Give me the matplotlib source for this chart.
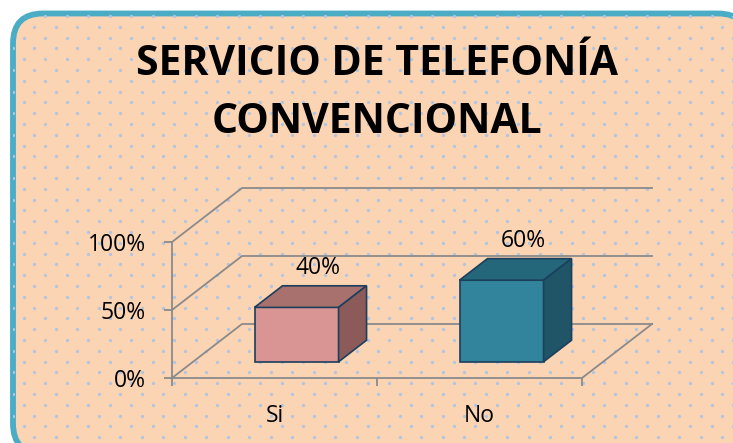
import numpy as np
import matplotlib
matplotlib.use("Agg")
import matplotlib.pyplot as plt
from matplotlib.patches import FancyBboxPatch, Polygon, Rectangle

# datos del gráfico
categorias = ["Si", "No"]
valores = [0.40, 0.60]
etiquetas = ["40%", "60%"]
yticks = [0.0, 0.5, 1.0]
ytick_labels = ["0%", "50%", "100%"]
titulo = "SERVICIO DE TELEFONÍA\nCONVENCIONAL"

# colores (frente, arriba, lado)
caras = [("#D99594", "#A8716E", "#8C5B59"), ("#31849B", "#24667A", "#1F5566")]
BORDE = "#1B3F5C"
GRIS = "#8A8A8A"
FONDO = "#FBD4B4"

W, H = 733, 443
fig = plt.figure(figsize=(W / 100, H / 100), dpi=100)
fig.patch.set_facecolor("white")

# fondo: recuadro redondeado con puntos
bg = fig.add_axes([0, 0, 1, 1])
bg.set_xlim(0, W); bg.set_ylim(H, 0); bg.axis("off")
caja = FancyBboxPatch((13, 13.5), 735, 440, boxstyle="round,pad=0,rounding_size=30",
                      fc=FONDO, ec="#4BACC6", lw=4.2, zorder=1)
bg.add_patch(caja)
px, py = [], []
for r in range(42):
    y = 16 + 10.8 * (r - 1)
    xs = np.arange(45 - 21.5 * 2, W + 10, 21.5) + (10.75 if r % 2 == 0 else 0)
    px.extend(xs); py.extend([y] * len(xs))
pts = bg.scatter(px, py, s=5.5, c="#B0C6E0", lw=0, zorder=2)
pts.set_clip_path(caja)

fig.text(377, H - 93.5, titulo, transform=None, ha="center", va="center",
         fontsize=29.5, fontweight="bold", family="Open Sans", linespacing=1.58)

# gráfico pseudo-3D
ax = fig.add_axes([172 / W, (H - 378) / H, 410 / W, 136 / H])
ax.set_xlim(0, 2); ax.set_ylim(0, 1)
ax.patch.set_alpha(0)
for s in ax.spines.values():
    s.set_visible(False)
DX, DY = 70 / 205, 54 / 136

# paredes y piso
for t in yticks:
    ax.plot([0, DX, 2 + DX], [t, t + DY, t + DY], color=GRIS, lw=1.3, clip_on=False, zorder=1)
ax.plot([0, 0], [0, 1], color=GRIS, lw=1.3, clip_on=False, zorder=1)
ax.plot([0, 2, 2 + DX], [0, 0, DY], color=GRIS, lw=1.3, clip_on=False, zorder=1)

ax.set_yticks(yticks, ytick_labels)
ax.set_xticks([0.5, 1.5], categorias)
ax.set_xticks([0, 1, 2], minor=True)
ax.tick_params(axis="y", length=6, width=1.3, color=GRIS, pad=13, labelsize=16.5)
ax.tick_params(axis="x", which="major", length=0, pad=19, labelsize=16.5)
ax.tick_params(axis="x", which="minor", length=6, width=1.3, color=GRIS)
for lab in ax.get_xticklabels() + ax.get_yticklabels():
    lab.set_family("Open Sans")

d0, d1, w = 0.3, 0.7, 0.41
for i, (v, (cf, ct, cs)) in enumerate(zip(valores, caras)):
    x0 = i + 0.30 + d0 * DX
    y0 = d0 * DY
    ox, oy = (d1 - d0) * DX, (d1 - d0) * DY
    ax.add_patch(Rectangle((x0, y0), w, v, fc=cf, ec=BORDE, lw=1.2, clip_on=False, zorder=3))
    ax.add_patch(Polygon([(x0, y0 + v), (x0 + w, y0 + v), (x0 + w + ox, y0 + v + oy), (x0 + ox, y0 + v + oy)],
                         closed=True, fc=ct, ec=BORDE, lw=1.2, clip_on=False, zorder=3))
    ax.add_patch(Polygon([(x0 + w, y0), (x0 + w + ox, y0 + oy), (x0 + w + ox, y0 + v + oy), (x0 + w, y0 + v)],
                         closed=True, fc=cs, ec=BORDE, lw=1.2, clip_on=False, zorder=3))
    ax.text(i + 0.5 + 0.62 * DX, v + d1 * DY + 0.13, etiquetas[i], ha="center", va="center",
            fontsize=16.5, family="Open Sans", clip_on=False, zorder=4)

fig.savefig("out.png", dpi=100)
